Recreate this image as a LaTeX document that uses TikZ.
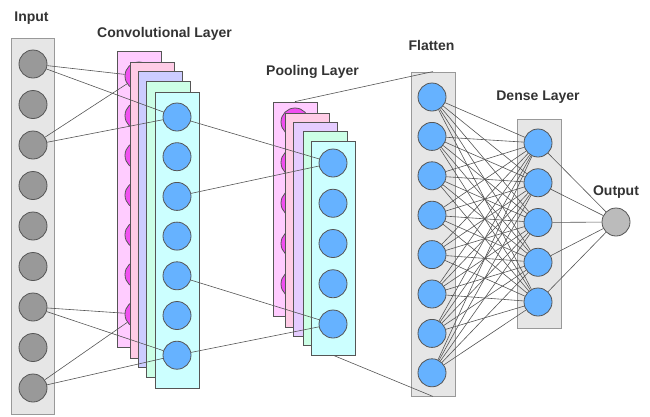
\documentclass[tikz,border=0pt]{standalone}
\usepackage{fontspec}
\setmainfont{Liberation Sans}
\definecolor{txt}{HTML}{333333}
\definecolor{edge}{HTML}{555555}
\definecolor{panel}{HTML}{E6E6E6}
\definecolor{panelb}{HTML}{999999}
\definecolor{gcirc}{HTML}{999999}
\definecolor{bcirc}{HTML}{66B2FF}
\definecolor{mcirc}{HTML}{F04FF0}
\definecolor{ocirc}{HTML}{BBBBBB}
\definecolor{fa}{HTML}{FFCCFF}
\definecolor{fb}{HTML}{FFCCE6}
\definecolor{fc}{HTML}{CCCCFF}
\definecolor{fd}{HTML}{CCFFE6}
\definecolor{fe}{HTML}{CCFFFF}
\definecolor{fcp}{HTML}{E5CCFF}
\tikzset{
  lbl/.style={font=\fontsize{14}{16}\selectfont\bfseries, text=txt, anchor=base, inner sep=0pt},
  panelbox/.style={draw=panelb, fill=panel, line width=0.9pt, minimum width=43pt, inner sep=0pt},
  fmap/.style={draw=edge, line width=0.8pt, minimum width=44pt, inner sep=0pt},
  neuron/.style={circle, draw=edge, line width=0.8pt, minimum size=28pt, inner sep=0pt},
  conn/.style={draw=edge, line width=0.6pt}
}
\begin{document}
\begin{tikzpicture}[x=1pt,y=-1pt]
\useasboundingbox (0,0) rectangle (650,416);
% labels
\node[lbl] (tin) at (31.5,21) {Input};
\node[lbl] (tconv) at (164.5,37) {Convolutional Layer};
\node[lbl] (tpool) at (312.5,75) {Pooling Layer};
\node[lbl] (tflat) at (431.5,50) {Flatten};
\node[lbl] (tdense) at (538,100) {Dense Layer};
\node[lbl] (tout) at (616,195) {Output};
% input
\node[panelbox, minimum height=376pt] (inbox) at (32.5,226) {};
\foreach \i in {1,...,9}
  \node[neuron, fill=gcirc] (in\i) at (33,{64+40.5*(\i-1)}) {};
% convolutional layer
\node[fmap, fill=fa, minimum height=296pt] (cr1) at (139,199) {};
\foreach \i in {1,...,7}
  \node[neuron, fill=mcirc] (ca\i) at (139,{76+39.7*(\i-1)}) {};
\node[fmap, fill=fb, minimum height=296pt] (cr2) at (152.5,210) {};
\node[fmap, fill=fc, minimum height=296pt] (cr3) at (160.5,219) {};
\node[fmap, fill=fd, minimum height=296pt] (cr4) at (168,229) {};
\node[fmap, fill=fe, minimum height=296pt] (cr5) at (177,240) {};
\foreach \i in {1,...,7}
  \node[neuron, fill=bcirc] (ce\i) at (177,{117+39.7*(\i-1)}) {};
% pooling layer
\node[fmap, fill=fa, minimum height=214pt] (pr1) at (295,209) {};
\foreach \i in {1,...,5}
  \node[neuron, fill=mcirc] (pa\i) at (295,{122+40.5*(\i-1)}) {};
\node[fmap, fill=fb, minimum height=214pt] (pr2) at (307,220) {};
\node[fmap, fill=fcp, minimum height=214pt] (pr3) at (315.5,229) {};
\node[fmap, fill=fd, minimum height=214pt] (pr4) at (325,238) {};
\node[fmap, fill=fe, minimum height=214pt] (pr5) at (333.5,248) {};
\foreach \i in {1,...,5}
  \node[neuron, fill=bcirc] (pe\i) at (333,{163+40.25*(\i-1)}) {};
% flatten
\node[panelbox, minimum width=44pt, minimum height=324pt] (flbox) at (433,234) {};
\foreach \i in {1,...,8}
  \node[neuron, fill=bcirc] (fl\i) at (432,{97+39.4*(\i-1)}) {};
% dense
\node[panelbox, minimum width=44pt, minimum height=209pt] (debox) at (539,223.5) {};
\foreach \i in {1,...,5}
  \node[neuron, fill=bcirc] (de\i) at (538,{143+39.75*(\i-1)}) {};
% output
\node[neuron, fill=ocirc] (out) at (616,222) {};
% connectors
\foreach \a/\b in {in1/ca1, in1/ce1, in3/ca1, in3/ce1, in7/ca7, in7/ce7, in9/ca7, in9/ce7,
                   ce1/pe1, ce3/pe1, ce5/pe5, ce7/pe5}
  \draw[conn] (\a) -- (\b);
\draw[conn] (pr1.north) -- (flbox.north);
\draw[conn] (pr5.south) -- (flbox.south);
\foreach \i in {1,...,8}
  \foreach \j in {1,...,5}
    \draw[conn] (fl\i) -- (de\j);
\foreach \j in {1,...,5}
  \draw[conn] (de\j) -- (out);
\end{tikzpicture}
\end{document}
